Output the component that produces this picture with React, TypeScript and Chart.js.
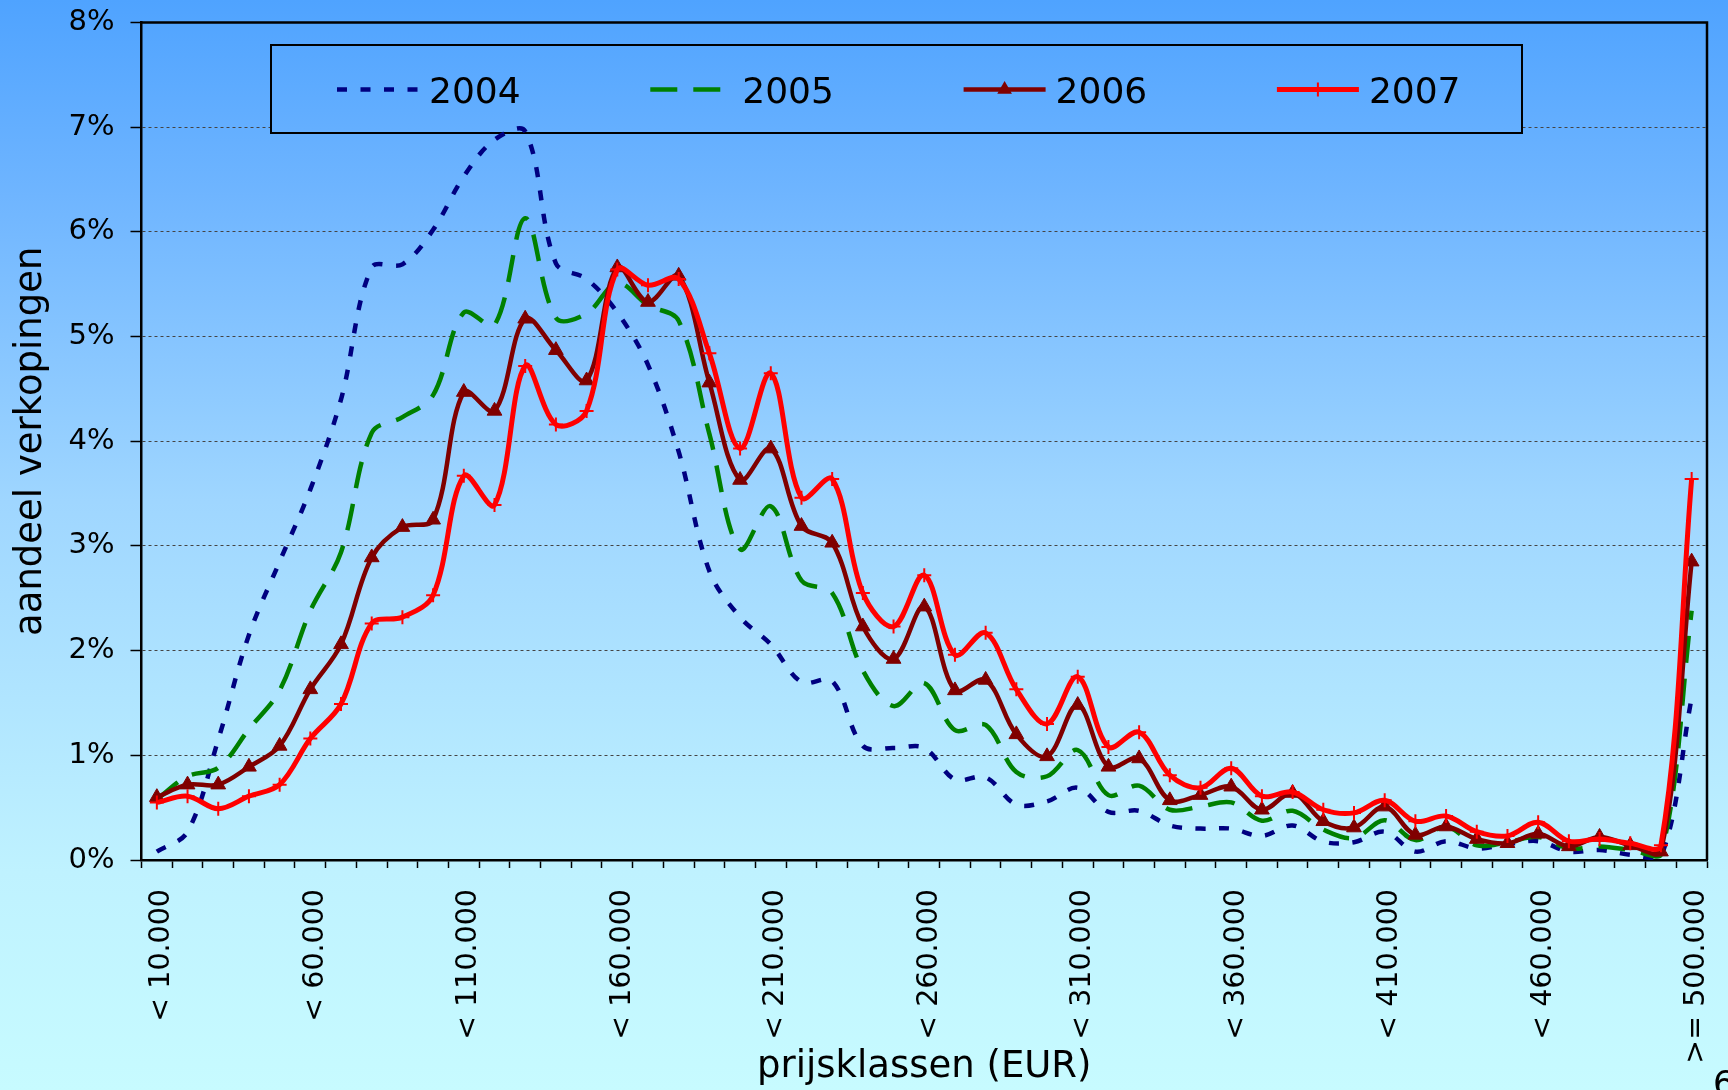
import React, { useEffect, useRef } from "react";
import { Chart, registerables } from "chart.js";

Chart.register(...registerables);

const categories = [
  "< 10.000", "< 20.000", "< 30.000", "< 40.000", "< 50.000",
  "< 60.000", "< 70.000", "< 80.000", "< 90.000", "< 100.000",
  "< 110.000", "< 120.000", "< 130.000", "< 140.000", "< 150.000",
  "< 160.000", "< 170.000", "< 180.000", "< 190.000", "< 200.000",
  "< 210.000", "< 220.000", "< 230.000", "< 240.000", "< 250.000",
  "< 260.000", "< 270.000", "< 280.000", "< 290.000", "< 300.000",
  "< 310.000", "< 320.000", "< 330.000", "< 340.000", "< 350.000",
  "< 360.000", "< 370.000", "< 380.000", "< 390.000", "< 400.000",
  "< 410.000", "< 420.000", "< 430.000", "< 440.000", "< 450.000",
  "< 460.000", "< 470.000", "< 480.000", "< 490.000", "< 500.000",
  ">= 500.000",
];

const shownTickIndices = [0, 5, 10, 15, 20, 25, 30, 35, 40, 45, 50];
const yTickLabels = ["0%", "1%", "2%", "3%", "4%", "5%", "6%", "7%", "8%"];

const share2004 = [
  0.08, 0.27, 1.15, 2.15, 2.85, 3.54, 4.4, 5.66, 5.69, 6.02,
  6.53, 6.88, 6.96, 5.7, 5.55, 5.23, 4.73, 3.9, 2.76, 2.32,
  2.06, 1.7, 1.71, 1.09, 1.07, 1.07, 0.77, 0.79, 0.53, 0.56,
  0.69, 0.46, 0.47, 0.33, 0.3, 0.3, 0.23, 0.33, 0.175, 0.17,
  0.27, 0.08, 0.18, 0.11, 0.15, 0.18, 0.08, 0.095, 0.05, 0.03,
  1.55,
];
const share2005 = [
  0.58, 0.8, 0.88, 1.25, 1.62, 2.38, 2.94, 4.08, 4.23, 4.44,
  5.23, 5.11, 6.13, 5.18, 5.22, 5.51, 5.3, 5.15, 4.07, 2.97,
  3.38, 2.67, 2.55, 1.81, 1.47, 1.69, 1.24, 1.29, 0.84, 0.8,
  1.05, 0.62, 0.71, 0.48, 0.51, 0.55, 0.375, 0.47, 0.29, 0.21,
  0.38, 0.19, 0.32, 0.14, 0.17, 0.22, 0.11, 0.13, 0.095, 0.05,
  2.38,
];
const share2006 = [
  0.6, 0.72, 0.72, 0.89, 1.09, 1.63, 2.06, 2.89, 3.18, 3.25,
  4.47, 4.29, 5.17, 4.87, 4.58, 5.66, 5.33, 5.58, 4.56, 3.63,
  3.93, 3.19, 3.03, 2.23, 1.92, 2.42, 1.62, 1.72, 1.2, 0.99,
  1.48, 0.89, 0.97, 0.57, 0.62, 0.7, 0.48, 0.64, 0.37, 0.31,
  0.51, 0.24, 0.32, 0.2, 0.16, 0.25, 0.13, 0.22, 0.14, 0.08,
  2.85,
];
const share2007 = [
  0.55, 0.61, 0.49, 0.61, 0.72, 1.16, 1.49, 2.26, 2.32, 2.53,
  3.67, 3.39, 4.72, 4.16, 4.29, 5.64, 5.49, 5.55, 4.84, 3.93,
  4.65, 3.46, 3.64, 2.55, 2.23, 2.72, 1.96, 2.17, 1.63, 1.3,
  1.75, 1.08, 1.22, 0.81, 0.69, 0.876, 0.61, 0.65, 0.48, 0.45,
  0.57, 0.37, 0.42, 0.27, 0.23, 0.36, 0.18, 0.2, 0.16, 0.14,
  3.64,
];

const C2004 = "#000080";
const C2005 = "#008000";
const C2006 = "#800000";
const C2007 = "#ff0000";
const FONT = '"DejaVu Sans", Verdana, sans-serif';

function makeGradient(ctx: CanvasRenderingContext2D, h: number) {
  const g = ctx.createLinearGradient(0, 0, 0, h);
  g.addColorStop(0, "#4fa3ff");
  g.addColorStop(0.18, "#6fb5ff");
  g.addColorStop(0.46, "#9fd6ff");
  g.addColorStop(0.8, "#bff2ff");
  g.addColorStop(1, "#c7fbff");
  return g;
}

function zeroPadding(s: any) {
  s.paddingTop = 0;
  s.paddingBottom = 0;
  s.paddingLeft = 0;
  s.paddingRight = 0;
}

const decorPlugin = {
  id: "decor",
  beforeDraw(chart: any) {
    const ctx = chart.ctx as CanvasRenderingContext2D;
    ctx.save();
    ctx.fillStyle = makeGradient(ctx, chart.height);
    ctx.fillRect(0, 0, chart.width, chart.height);
    ctx.restore();
  },
  beforeDatasetsDraw(chart: any) {
    const ctx = chart.ctx as CanvasRenderingContext2D;
    const { left, top, right, bottom } = chart.chartArea;
    ctx.save();
    // plot frame (top & right)
    ctx.strokeStyle = "#000";
    ctx.lineWidth = 2.5;
    ctx.beginPath();
    ctx.moveTo(left, top);
    ctx.lineTo(right, top);
    ctx.lineTo(right, bottom);
    ctx.stroke();

    // legend box
    const bx = left + 129.5;
    const by = top + 22.5;
    const bw = 1251;
    const bh = 88;
    ctx.fillStyle = makeGradient(ctx, chart.height);
    ctx.fillRect(bx, by, bw, bh);
    ctx.lineWidth = 2;
    ctx.strokeStyle = "#000";
    ctx.strokeRect(bx, by, bw, bh);

    const ds = chart.data.datasets;
    const lineY = by + 44.5;
    for (let k = 0; k < ds.length; k++) {
      const d = ds[k];
      const sx = bx + 66 + k * 313.3;
      const sl = 82;
      ctx.save();
      ctx.strokeStyle = d.borderColor;
      ctx.lineWidth = d.borderWidth;
      ctx.setLineDash(d.borderDash || []);
      ctx.beginPath();
      ctx.moveTo(sx, lineY);
      ctx.lineTo(sx + sl, lineY);
      ctx.stroke();
      ctx.setLineDash([]);
      const cx = sx + sl / 2;
      if (d.pointStyle === "triangle") {
        const r = d.pointRadius;
        ctx.fillStyle = d.pointBackgroundColor;
        ctx.beginPath();
        ctx.moveTo(cx, lineY - r);
        ctx.lineTo(cx + r * Math.sin((2 * Math.PI) / 3), lineY + r / 2);
        ctx.lineTo(cx - r * Math.sin((2 * Math.PI) / 3), lineY + r / 2);
        ctx.closePath();
        ctx.fill();
      } else if (d.pointStyle === "cross") {
        const r = d.pointRadius;
        ctx.lineWidth = d.pointBorderWidth;
        ctx.strokeStyle = d.pointBorderColor;
        ctx.beginPath();
        ctx.moveTo(cx, lineY - r);
        ctx.lineTo(cx, lineY + r);
        ctx.moveTo(cx - r, lineY);
        ctx.lineTo(cx + r, lineY);
        ctx.stroke();
      }
      ctx.restore();
      ctx.fillStyle = "#000";
      ctx.font = `36px ${FONT}`;
      ctx.textAlign = "left";
      ctx.textBaseline = "alphabetic";
      ctx.fillText(d.label, sx + 92, by + 58);
    }
    ctx.restore();
  },
  afterDraw(chart: any) {
    const ctx = chart.ctx as CanvasRenderingContext2D;
    ctx.save();
    ctx.fillStyle = "#000";
    ctx.font = `34px ${FONT}`;
    ctx.textAlign = "left";
    ctx.textBaseline = "alphabetic";
    ctx.fillText("6", 1713, 1095);
    ctx.restore();
  },
};

export default function App() {
  const ref = useRef<HTMLCanvasElement>(null);

  useEffect(() => {
    document.body.style.margin = "0";
    const canvas = ref.current!;
    const tension = 0.35;
    const chart = new Chart(canvas, {
      type: "line",
      data: {
        labels: categories,
        datasets: [
          {
            label: "2004",
            data: share2004,
            borderColor: C2004,
            borderWidth: 4.5,
            borderDash: [10, 13.5],
            pointRadius: 0,
            pointHoverRadius: 0,
            tension,
            fill: false,
            order: 4,
          },
          {
            label: "2005",
            data: share2005,
            borderColor: C2005,
            borderWidth: 4.5,
            borderDash: [27, 16],
            pointRadius: 0,
            pointHoverRadius: 0,
            tension,
            fill: false,
            order: 3,
          },
          {
            label: "2006",
            data: share2006,
            borderColor: C2006,
            borderWidth: 4.5,
            pointStyle: "triangle",
            pointRadius: 8.5,
            pointBackgroundColor: C2006,
            pointBorderColor: C2006,
            pointBorderWidth: 1,
            tension,
            fill: false,
            order: 2,
          },
          {
            label: "2007",
            data: share2007,
            borderColor: C2007,
            borderWidth: 5,
            pointStyle: "cross",
            pointRadius: 7,
            pointBackgroundColor: C2007,
            pointBorderColor: C2007,
            pointBorderWidth: 2,
            tension,
            fill: false,
            order: 1,
          },
        ] as any,
      },
      options: {
        animation: false,
        responsive: false,
        maintainAspectRatio: false,
        events: [],
        layout: { padding: { left: 0, right: 21, top: 22.5, bottom: 0 } },
        plugins: {
          legend: { display: false },
          tooltip: { enabled: false },
          title: { display: false },
        },
        scales: {
          x: {
            type: "category",
            offset: true,
            afterFit: (s: any) => {
              s.height = 230;
              zeroPadding(s);
            },
            grid: {
              display: true,
              offset: true,
              drawOnChartArea: false,
              drawTicks: true,
              tickLength: 8,
              tickColor: "#000",
              tickWidth: 1.5,
            },
            border: { display: true, color: "#000", width: 2.5 },
            ticks: {
              autoSkip: false,
              maxRotation: 90,
              minRotation: 90,
              padding: 21,
              labelOffset: 5,
              color: "#000",
              font: { family: FONT, size: 28.5 },
              callback: (_v: any, index: number) =>
                shownTickIndices.includes(index) ? categories[index] : "",
            },
            title: {
              display: true,
              text: "prijsklassen (EUR)",
              color: "#000",
              font: { family: FONT, size: 37 },
              padding: { top: 0, bottom: 0 },
            },
          },
          y: {
            min: 0,
            max: 8,
            afterFit: (s: any) => {
              s.width = 141.5;
              zeroPadding(s);
            },
            grid: {
              display: true,
              drawOnChartArea: true,
              color: "#444",
              lineWidth: 1,
              drawTicks: true,
              tickLength: 11,
              tickColor: "#000",
              tickWidth: 1.5,
            },
            border: { display: true, color: "#000", width: 2.5, dash: [3, 3] },
            ticks: {
              stepSize: 1,
              padding: 16,
              color: "#000",
              font: { family: FONT, size: 29 },
              callback: (_v: any, index: number) => yTickLabels[index],
            },
            title: {
              display: true,
              text: "aandeel verkopingen",
              color: "#000",
              font: { family: FONT, size: 37 },
              padding: { top: 9, bottom: 0 },
            },
          },
        },
      } as any,
      plugins: [decorPlugin],
    });
    return () => chart.destroy();
  }, []);

  return (
    <div
      style={{
        position: "fixed",
        left: 0,
        top: 0,
        width: 1728,
        height: 1090,
        overflow: "hidden",
        background: "linear-gradient(#4fa3ff, #c7fbff)",
      }}
    >
      <canvas ref={ref} width={1728} height={1090} style={{ display: "block" }} />
    </div>
  );
}
